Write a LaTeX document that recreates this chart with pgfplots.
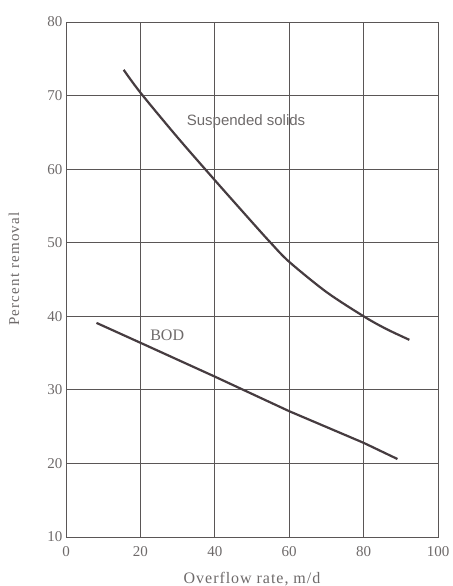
\documentclass[border=0pt]{standalone}
\usepackage{pgfplots}
\pgfplotsset{compat=1.18}
\usepackage{fontspec}
\setmainfont{Liberation Serif}
\newfontfamily\labsans{Liberation Sans}
\definecolor{txt}{HTML}{6E6A6A}
\definecolor{gridc}{HTML}{5A5656}
\definecolor{curve}{HTML}{463C40}
\begin{document}
\begin{tikzpicture}
\begin{axis}[name=ax,
  scale only axis, width=372pt, height=515pt,
  xmin=0, xmax=100, ymin=10, ymax=80,
  xtick={0,20,...,100}, ytick={10,20,...,80},
  grid=major, major grid style={gridc, line width=0.8pt},
  axis line style={gridc, line width=0.8pt},
  major tick length=0pt,
  tick label style={font=\fontsize{15}{17}\selectfont, text=txt},
  /pgf/number format/assume math mode=true,
  xticklabel style={yshift=-6pt},
  yticklabel style={xshift=0pt},
  xlabel={Overflow rate, m/d},
  xlabel style={font=\fontsize{16}{18}\selectfont\addfontfeatures{LetterSpace=6}, text=txt, at={(axis description cs:0.5,0)}, anchor=center, yshift=-42pt},
  ylabel={Percent removal},
  ylabel style={font=\fontsize{15}{17}\selectfont\addfontfeatures{LetterSpace=8}, text=txt, at={(axis description cs:0,0.52)}, anchor=center, yshift=52pt},
  clip=false,
]
\addplot[curve, line width=2.2pt, smooth, tension=0.5] coordinates {
 (15.5,73.5) (20,70.4) (30,64.3) (40,58.5) (50,52.8) (55,50.0) (60,47.4) (70,43.3) (80,40.0) (86,38.3) (92.3,36.8)};
\addplot[curve, line width=2.2pt] coordinates {
 (8.2,39.1) (20,36.4) (40,31.8) (60,27.1) (80,22.8) (89.1,20.6)};
\node[font=\labsans\fontsize{15}{17}\selectfont, text=txt] at (axis cs:48.4,66.4) {Suspended solids};
\node[font=\fontsize{16}{18}\selectfont, text=txt] at (axis cs:27.2,37.4) {BOD};
\end{axis}
\pgfresetboundingbox
\path[use as bounding box] ([xshift=-66pt,yshift=-49pt]ax.south west) rectangle ([xshift=14pt,yshift=22pt]ax.north east);
\end{tikzpicture}
\end{document}
